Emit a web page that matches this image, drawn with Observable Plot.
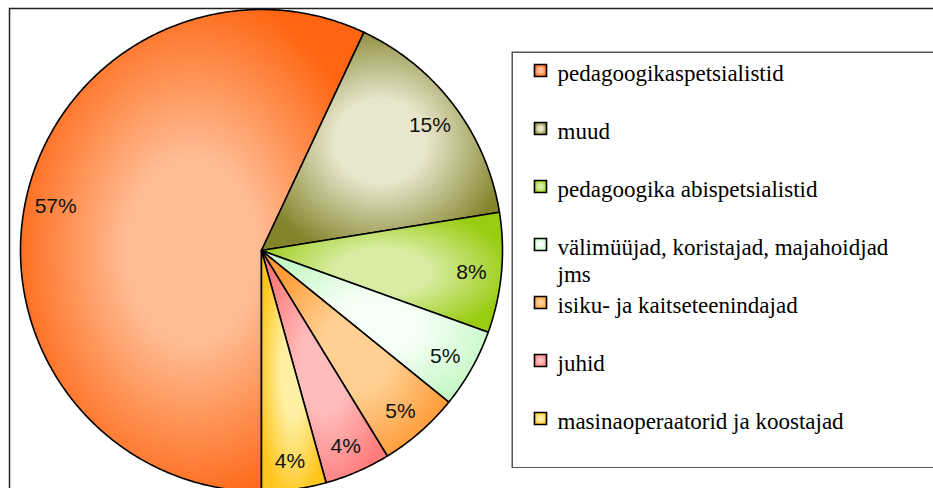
<!DOCTYPE html>
<html>
<head>
<meta charset="utf-8">
<script src="https://cdn.jsdelivr.net/npm/d3@7"></script>
<script src="https://cdn.jsdelivr.net/npm/@observablehq/plot@0.6"></script>
<style>
html, body { margin: 0; padding: 0; background: #fff; overflow: hidden; }
#wrap { position: relative; width: 933px; height: 488px; overflow: hidden; }
#chart svg { display: block; }
#legendHost { position: absolute; left: 511px; top: 51px; width: 440px; height: 417px; }
#legendHost svg { display: block; }
</style>
</head>
<body>
<div id="wrap">
  <div id="chart"></div>
  <div id="legendHost"></div>
</div>
<script>
// ---- data ----
const categories = [
  "pedagoogikaspetsialistid",
  "muud",
  "pedagoogika abispetsialistid",
  "välimüüjad, koristajad, majahoidjad jms",
  "isiku- ja kaitseteenindajad",
  "juhid",
  "masinaoperaatorid ja koostajad"
];
const values = [56.7, 15.4, 8.0, 5.3, 5.4, 4.4, 4.3];
const edgeColors   = ["#ff6410", "#84842c", "#99cc11", "#c6f8c6", "#ff9a36", "#ff7c7c", "#ffc61e"];
const centerColors = ["#ffbc94", "#e8e6cc", "#d8eda4", "#f6fff6", "#ffd092", "#ffbcbc", "#fff0a4"];

// ---- geometry from data ----
const total = d3.sum(values);
const pie = d3.pie().sort(null).value(d => d).startAngle(Math.PI).endAngle(3 * Math.PI)(values);

const slices = pie.map((p, i) => {
  const pts = [{x: 0, y: 0}];
  const n = Math.max(4, Math.ceil((p.endAngle - p.startAngle) / (Math.PI / 360)));
  for (let k = 0; k <= n; ++k) {
    const a = p.startAngle + (p.endAngle - p.startAngle) * k / n;
    pts.push({x: Math.sin(a), y: Math.cos(a)});
  }
  pts.push({x: 0, y: 0});
  return pts;
});

const fmt = d3.format(".0%");
const labels = pie.map((p, i) => {
  const a = (p.startAngle + p.endAngle) / 2;
  const r = 0.875;
  return {x: r * Math.sin(a), y: r * Math.cos(a), text: fmt(values[i] / total)};
});

function addGradients(svgEl, prefix) {
  const ns = "http://www.w3.org/2000/svg";
  const defs = document.createElementNS(ns, "defs");
  categories.forEach((c, i) => {
    const g = document.createElementNS(ns, "radialGradient");
    g.setAttribute("id", prefix + i);
    g.setAttribute("cx", "50%");
    g.setAttribute("cy", "50%");
    g.setAttribute("r", "55%");
    [[0, centerColors[i]], [0.35, centerColors[i]], [1, edgeColors[i]]].forEach(([o, col]) => {
      const s = document.createElementNS(ns, "stop");
      s.setAttribute("offset", o);
      s.setAttribute("stop-color", col);
      g.appendChild(s);
    });
    defs.appendChild(g);
  });
  svgEl.insertBefore(defs, svgEl.firstChild);
}

// ---- pie plot ----
const svg = Plot.plot({
  width: 933,
  height: 488,
  marginLeft: 9,
  marginTop: 8,
  marginRight: -30,
  marginBottom: -30,
  x: {domain: [-1, 1], range: [20, 502], axis: null},
  y: {domain: [-1, 1], range: [491, 9], axis: null},
  style: {background: "#fff"},
  marks: [
    Plot.frame({stroke: "#222", strokeWidth: 1.5}),
    ...slices.map((pts, i) => Plot.line(pts, {
      x: "x", y: "y",
      fill: `url(#g${i})`,
      stroke: "#000",
      strokeWidth: 1.6,
      strokeLinejoin: "round",
      curve: "linear"
    })),
    Plot.text(labels, {
      x: "x", y: "y", text: "text",
      dy: 2,
      fontSize: 21,
      fontFamily: "Liberation Sans",
      fill: "#111"
    })
  ]
});
addGradients(svg, "g");
document.getElementById("chart").appendChild(svg);

// ---- legend plot ----
const wrapLabel = s => {
  if (s.length <= 36) return s;
  const k = s.lastIndexOf(" ", 36);
  return s.slice(0, k) + "\n" + s.slice(k + 1);
};
const legendSvg = Plot.plot({
  width: 440,
  height: 417,
  margin: 0,
  x: {domain: [0, 1], range: [29, 46], axis: null},
  y: {type: "point", domain: categories, range: [19, 367], padding: 0, axis: null},
  style: {background: "#fff"},
  marks: [
    Plot.frame({stroke: "#555", strokeWidth: 1.5, inset: 0.75}),
    ...categories.map((c, i) => Plot.dot([c], {
      x: () => 0, y: d => d,
      symbol: "square", r: 6.8,
      fill: `url(#lg${i})`,
      stroke: "#000", strokeWidth: 1.6
    })),
    Plot.text(categories, {
      x: () => 1, y: d => d,
      text: d => wrapLabel(d),
      textAnchor: "start",
      lineAnchor: "top",
      lineHeight: 1.17,
      dy: -8.6,
      fontSize: 23,
      fontFamily: "'Liberation Serif', 'Times New Roman', Tinos, serif",
      fill: "#000"
    })
  ]
});
addGradients(legendSvg, "lg");
legendSvg.querySelectorAll("text").forEach(t => t.setAttribute("font-family", "Liberation Serif, Times New Roman, serif"));
document.getElementById("legendHost").appendChild(legendSvg);
</script>
</body>
</html>
